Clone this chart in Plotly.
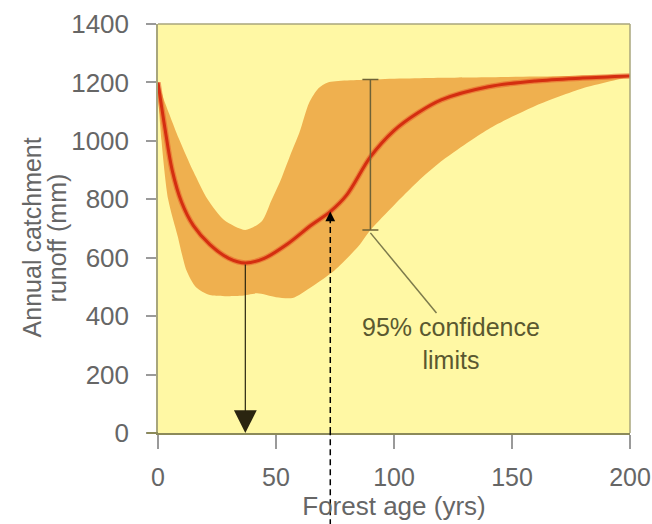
import plotly.graph_objects as go

# Forest age (yrs) and mean annual catchment runoff (mm)
age = [0, 3, 6, 10, 15, 22, 30, 37, 45, 55, 65, 73, 80, 90, 100, 110, 120, 140, 160, 180, 200]
runoff = [1200, 1040, 900, 790, 710, 645, 598, 582, 598, 648, 712, 758, 815, 945, 1035, 1095, 1140, 1185, 1205, 1215, 1222]

# Upper 95% confidence limit
upper_age = [0, 3, 9, 15, 21, 28, 37, 44, 48, 52, 56, 60, 64, 68, 72, 90, 120, 160, 200]
upper_runoff = [1200, 1130, 1005, 895, 800, 729, 695, 725, 795, 866, 950, 1030, 1130, 1180, 1200, 1210, 1216, 1220, 1224]

# Lower 95% confidence limit
lower_age = [0, 1.5, 4.3, 8.4, 12, 16, 22, 35, 42, 50, 57, 65, 75, 85, 90, 100, 110, 120, 140, 160, 180, 200]
lower_runoff = [1200, 1000, 800, 672, 558, 500, 472, 470, 478, 465, 462, 500, 558, 640, 695, 780, 860, 930, 1040, 1120, 1180, 1222]

# Confidence interval marker
ci_age = 90
ci_low = 695
ci_high = 1210

# Minimum runoff age and the marked point on the recovering curve
min_age, min_runoff = 37, 582
mark_age, mark_runoff = 73, 758

# Leader line end (label anchor)
label_age, label_runoff = 118, 411
label_text = "95% confidence<br>limits"

x_ticks = [0, 50, 100, 150, 200]
y_ticks = [0, 200, 400, 600, 800, 1000, 1200, 1400]

FONT = "Liberation Sans, Arial, sans-serif"
GREY = "#666666"
OLIVE = "#8c8a5a"
FRAME = "#a8a67c"

fig = go.Figure()

# Confidence band
fig.add_trace(go.Scatter(
    x=upper_age + lower_age[::-1],
    y=upper_runoff + lower_runoff[::-1],
    fill="toself", fillcolor="#EFB04F",
    line=dict(width=0, shape="spline", smoothing=0.7),
    mode="lines", hoverinfo="skip", showlegend=False,
))

# Mean curve (halo + core)
fig.add_trace(go.Scatter(
    x=age, y=runoff, mode="lines",
    line=dict(color="rgba(232,90,40,0.55)", width=5.5, shape="spline", smoothing=0.9),
    hoverinfo="skip", showlegend=False,
))
fig.add_trace(go.Scatter(
    x=age, y=runoff, mode="lines",
    line=dict(color="#D42E10", width=3, shape="spline", smoothing=0.9),
    showlegend=False,
))

# Confidence interval bar
fig.add_trace(go.Scatter(
    x=[ci_age], y=[(ci_low + ci_high) / 2], mode="markers",
    marker=dict(size=1, color="rgba(0,0,0,0)"),
    error_y=dict(type="data", array=[(ci_high - ci_low) / 2], symmetric=True,
                 color="#6e6236", thickness=1.5, width=8),
    hoverinfo="skip", showlegend=False,
))

shapes = [
    # leader line to label
    dict(type="line", xref="x", yref="y", x0=ci_age, y0=ci_low - 10, x1=label_age, y1=label_runoff,
         line=dict(color="#7d7b4c", width=1.5)),
    # dashed arrow shaft (inside plot)
    dict(type="line", xref="x", yref="y", x0=mark_age, x1=mark_age, y0=0, y1=mark_runoff - 40,
         line=dict(color="black", width=1.5, dash="6px,4px")),
    # dashed arrow shaft (below plot)
    dict(type="line", xref="x", yref="paper", x0=mark_age, x1=mark_age, y0=-0.25, y1=0,
         line=dict(color="black", width=1.5, dash="6px,4px")),
    # top and right frame
    dict(type="line", xref="paper", yref="paper", x0=0, x1=1, y0=1, y1=1,
         line=dict(color=FRAME, width=1.5)),
    dict(type="line", xref="paper", yref="paper", x0=1, x1=1, y0=0, y1=1,
         line=dict(color=FRAME, width=1.5)),
    # x-axis line extension to the left
    dict(type="line", xref="paper", yref="paper", x0=-0.024, x1=0, y0=0, y1=0,
         line=dict(color=OLIVE, width=2)),
]

annotations = [
    dict(x=min_age, y=0, ax=min_age, ay=min_runoff, xref="x", yref="y", axref="x", ayref="y",
         text="", showarrow=True, arrowhead=2, arrowsize=3.8, arrowwidth=1.2,
         arrowcolor="#2a2510", standoff=0),
    dict(x=mark_age, y=mark_runoff, ax=mark_age, ay=mark_runoff - 45, xref="x", yref="y",
         axref="x", ayref="y", text="", showarrow=True, arrowhead=2, arrowsize=1.3,
         arrowwidth=1.5, arrowcolor="black", standoff=0),
    dict(x=label_age + 6, y=label_runoff - 105, xref="x", yref="y", text=label_text,
         showarrow=False, font=dict(family=FONT, size=25, color="#5a5830"), align="center"),
    # y-axis title, two lines
    dict(x=-0.268, y=0.477, xref="paper", yref="paper", text="Annual catchment",
         textangle=-90, showarrow=False, xanchor="center", yanchor="middle",
         font=dict(family=FONT, size=25, color=GREY)),
    dict(x=-0.215, y=0.477, xref="paper", yref="paper", text="runoff (mm)",
         textangle=-90, showarrow=False, xanchor="center", yanchor="middle",
         font=dict(family=FONT, size=25, color=GREY)),
]

fig.update_layout(
    width=652, height=524,
    margin=dict(l=158, r=22, t=24, b=91),
    paper_bgcolor="white", plot_bgcolor="#FFF8A4",
    font=dict(family=FONT, size=25, color=GREY),
    shapes=shapes, annotations=annotations,
    xaxis=dict(range=[0, 200], tickvals=x_ticks, ticks="outside", ticklen=14, tickwidth=1.5,
               tickcolor="#9a9a9a", showline=True, linecolor=OLIVE, linewidth=2,
               showgrid=False, zeroline=False, ticklabelstandoff=7,
               ticklabeloverflow="allow", automargin=False,
               tickfont=dict(size=25, color=GREY),
               title=dict(text="Forest age (yrs)", font=dict(size=26, color=GREY), standoff=2)),
    yaxis=dict(range=[0, 1400], tickvals=y_ticks, ticks="outside", ticklen=10, tickwidth=1.5,
               tickcolor="#9a9a9a", showline=True, linecolor=FRAME, linewidth=1.5,
               showgrid=False, zeroline=False, ticklabelstandoff=12, automargin=False,
               tickfont=dict(size=26, color=GREY)),
)

fig.write_html("out.html")
